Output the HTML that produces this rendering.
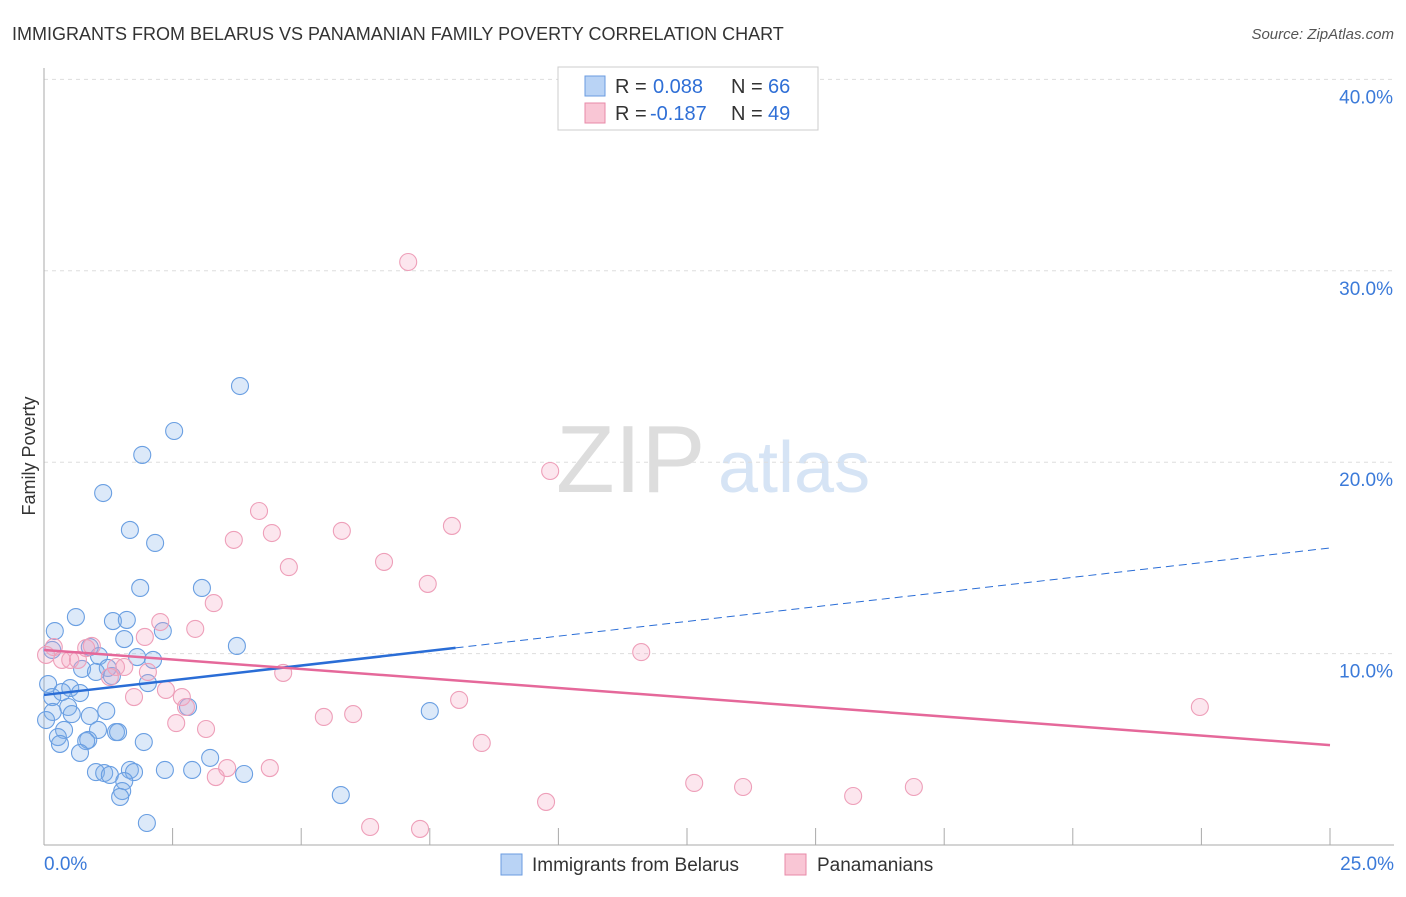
<!DOCTYPE html>
<html><head><meta charset="utf-8"><style>
body{margin:0;background:#fff;font-family:"Liberation Sans",sans-serif}
svg text{font-family:"Liberation Sans",sans-serif}
</style></head><body>
<svg id="c" width="1406" height="892" xmlns="http://www.w3.org/2000/svg">
<text x="12" y="40" font-size="18" fill="#333">IMMIGRANTS FROM BELARUS VS PANAMANIAN FAMILY POVERTY CORRELATION CHART</text>
<text x="1394" y="39" font-size="15" fill="#555" font-style="italic" text-anchor="end">Source: ZipAtlas.com</text>
<text x="35" y="456" font-size="18" fill="#333" transform="rotate(-90 35 456)" text-anchor="middle">Family Poverty</text>
<text x="556" y="492" font-size="96" fill="#ddd" font-family="Liberation Serif">ZIP</text>
<text x="718" y="492" font-size="72" fill="#d6e4f5">atlas</text>
<g id="grid"></g><g id="pts"></g><g id="lines"></g>
<g>
<rect x="558" y="67" width="260" height="63" fill="#fff" stroke="#ccc"/>
<rect x="585" y="76" width="20" height="20" fill="#b9d3f5" stroke="#6a9be0"/>
<rect x="585" y="103" width="20" height="20" fill="#f9c6d5" stroke="#e88aa8"/>
<text x="615" y="93" font-size="20" fill="#333">R =</text>
<text x="653" y="93" font-size="20" fill="#2f6fd6">0.088</text>
<text x="731" y="93" font-size="20" fill="#333">N =</text>
<text x="768" y="93" font-size="20" fill="#2f6fd6">66</text>
<text x="615" y="120" font-size="20" fill="#333">R =</text>
<text x="650" y="120" font-size="20" fill="#2f6fd6">-0.187</text>
<text x="731" y="120" font-size="20" fill="#333">N =</text>
<text x="768" y="120" font-size="20" fill="#2f6fd6">49</text>
</g>
<g>
<rect x="501" y="854" width="21" height="21" fill="#b9d3f5" stroke="#6a9be0"/>
<text x="532" y="871" font-size="19" fill="#333">Immigrants from Belarus</text>
<rect x="785" y="854" width="21" height="21" fill="#f9c6d5" stroke="#e88aa8"/>
<text x="817" y="871" font-size="19" fill="#333">Panamanians</text>
</g>
</svg>
<script>
const blueX=[3.81,2.53,1.91,1.15,1.67,2.16,1.87,3.07,0.62,1.34,1.61,0.21,2.31,1.56,3.75,0.89,1.07,2.12,1.81,0.16,1.24,0.74,1.01,1.32,2.02,0.08,0.51,0.70,0.16,0.35,0.47,0.54,1.21,2.80,0.89,0.17,7.50,0.39,1.05,1.40,1.44,0.27,0.86,0.31,1.94,0.82,0.70,3.23,1.01,1.67,1.17,1.28,1.75,2.35,2.88,3.89,1.56,1.52,1.48,5.77,2.00,0.04];
const blueY=[23.98,21.63,20.38,18.39,16.46,15.78,13.43,13.43,11.91,11.70,11.76,11.18,11.18,10.76,10.40,10.34,9.87,9.67,9.82,10.19,9.25,9.20,9.04,8.83,8.46,8.41,8.20,7.94,7.73,7.99,7.21,6.84,7.00,7.21,6.74,6.95,7.00,6.01,6.01,5.90,5.90,5.64,5.49,5.28,5.38,5.43,4.81,4.55,3.81,3.92,3.76,3.66,3.81,3.92,3.92,3.71,3.34,2.82,2.51,2.61,1.15,6.53];
const pinkX=[7.08,9.84,4.18,7.93,5.79,4.43,3.69,6.61,4.76,7.46,3.30,2.26,2.94,1.96,0.93,0.19,0.82,0.04,0.35,0.51,0.66,1.40,1.56,2.02,1.28,4.65,11.61,2.37,1.75,2.68,2.76,8.07,5.44,6.01,2.57,3.15,22.47,8.51,3.56,4.39,3.34,12.64,13.59,16.91,15.73,9.76,6.34,7.31];
const pinkY=[30.46,19.54,17.45,16.67,16.41,16.30,15.94,14.79,14.52,13.64,12.64,11.65,11.29,10.87,10.40,10.34,10.29,9.93,9.67,9.67,9.67,9.30,9.30,9.04,8.78,8.99,10.08,8.10,7.73,7.73,7.21,7.58,6.69,6.84,6.37,6.06,7.21,5.33,4.02,4.02,3.55,3.24,3.03,3.03,2.56,2.25,0.94,0.84];
const yTicks=[10,20,30,40];
const yTickLabels=["10.0%","20.0%","30.0%","40.0%"];
const xTicks=[0,2.5,5,7.5,10,12.5,15,17.5,20,22.5,25];
const blueTrend=[7.84,15.52], blueSolidEnd=8.0;
const pinkTrend=[10.19,5.22];
const NS="http://www.w3.org/2000/svg";
const sx=v=>44+v*51.44, sy=v=>845-v*19.14;
function mk(t,a,p){const e=document.createElementNS(NS,t);for(const k in a)e.setAttribute(k,a[k]);p.appendChild(e);return e;}
const grid=document.getElementById('grid');
yTicks.forEach((t,i)=>{
 const l=mk('line',{x1:44,x2:1394,y1:sy(t),y2:sy(t),stroke:'#ddd','stroke-dasharray':'4,4'},grid);
 
 
 const tx=mk('text',{x:1393,y:sy(t)+24,'font-size':19,fill:'#3b7ad9','text-anchor':'end'},grid);
 tx.textContent=yTickLabels[i];
 
 
});
const ax=mk('line',{x1:44,x2:44,y1:68,y2:845,stroke:'#aaa'},grid);


const bx=mk('line',{x1:44,x2:1394,y1:845,y2:845,stroke:'#aaa'},grid);


xTicks.slice(1).forEach(t=>{const l=mk('line',{x1:sx(t),x2:sx(t),y1:828,y2:845,stroke:'#aaa'},grid);
 
 });
let t0=mk('text',{x:44,y:870,'font-size':19,fill:'#3b7ad9'},grid);t0.textContent='0.0%';


let t1=mk('text',{x:1394,y:870,'font-size':19,fill:'#3b7ad9','text-anchor':'end'},grid);t1.textContent='25.0%';


const pts=document.getElementById('pts');
blueX.forEach((x,i)=>{const c=mk('circle',{cx:sx(x),cy:sy(blueY[i]),r:8.5,fill:'rgba(130,175,235,0.28)',stroke:'#6a9fe2','stroke-width':1.1},pts);
 
 });
pinkX.forEach((x,i)=>{const c=mk('circle',{cx:sx(x),cy:sy(pinkY[i]),r:8.5,fill:'rgba(245,165,195,0.28)',stroke:'#ee9fb9','stroke-width':1.1},pts);
 
 });
const ln=document.getElementById('lines');
const by=x=>blueTrend[0]+(blueTrend[1]-blueTrend[0])*x/25;
let b1=mk('line',{x1:sx(0),y1:sy(blueTrend[0]),x2:sx(blueSolidEnd),y2:sy(by(blueSolidEnd)),stroke:'#2a6dd6','stroke-width':2.5},ln);


let b2=mk('line',{x1:sx(blueSolidEnd),y1:sy(by(blueSolidEnd)),x2:sx(25),y2:sy(blueTrend[1]),stroke:'#2a6dd6','stroke-width':1,'stroke-dasharray':'8,5'},ln);


let p1=mk('line',{x1:sx(0),y1:sy(pinkTrend[0]),x2:sx(25),y2:sy(pinkTrend[1]),stroke:'#e5689a','stroke-width':2.5},ln);


</script>
</body></html>
